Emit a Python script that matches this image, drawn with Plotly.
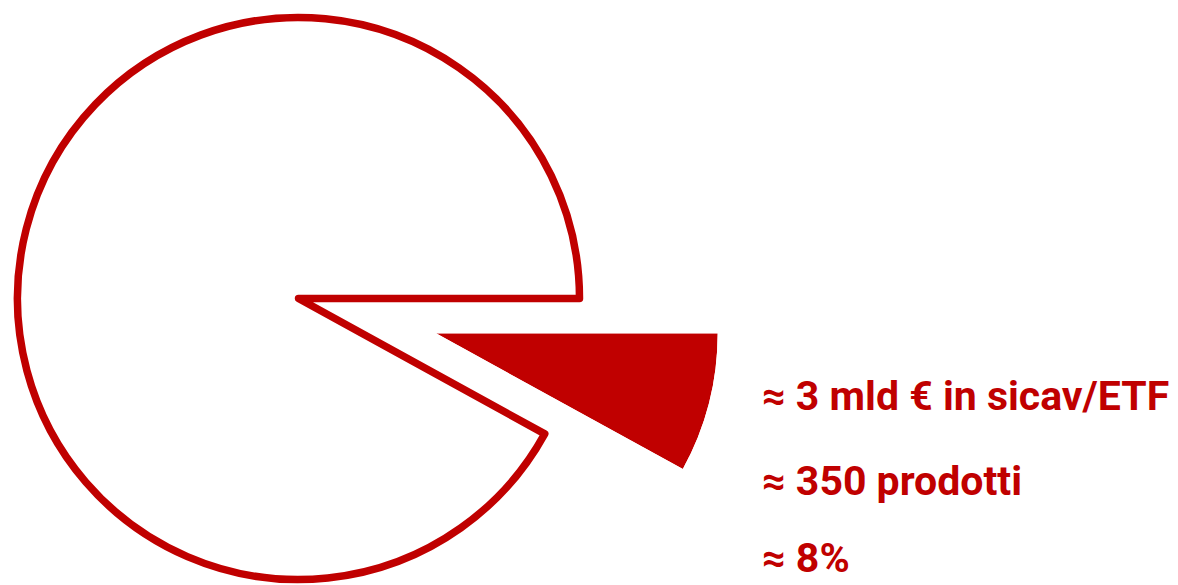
import plotly.graph_objects as go

# Share of assets: remaining market vs. sicav/ETF
labels = ["sicav/ETF", "Altro"]
shares = [8, 92]
facts = ["≈ 3 mld € in sicav/ETF", "≈ 350 prodotti", "≈ 8%"]

RED = "#C00000"
W, H = 1178, 585

fig = go.Figure()

# Main pie: outlined remainder, highlighted slice left empty here
fig.add_trace(go.Pie(
    labels=labels,
    values=shares,
    sort=False,
    direction="clockwise",
    rotation=90,
    marker=dict(
        colors=["rgba(0,0,0,0)", "white"],
        line=dict(color=["rgba(0,0,0,0)", RED], width=[0, 7.5]),
    ),
    textinfo="none",
    hoverinfo="label+percent",
    showlegend=False,
    domain=dict(x=[17.5 / W, 579.5 / W], y=[(H - 579.5) / H, (H - 17.5) / H]),
))

# Highlighted slice, drawn detached from the pie on its own polar sector
ang = shares[0] / sum(shares) * 360
fig.add_trace(go.Barpolar(
    r=[1],
    theta=[-ang / 2],
    width=[ang],
    marker=dict(color=RED, line=dict(width=0)),
    name=labels[0],
    showlegend=False,
    subplot="polar",
))

fig.update_layout(
    width=W,
    height=H,
    margin=dict(l=0, r=0, t=0, b=0),
    paper_bgcolor="white",
    plot_bgcolor="white",
    polar=dict(
        domain=dict(x=[436 / W, 717.7 / W], y=[(H - 469) / H, (H - 333.3) / H]),
        sector=[-ang, 0],
        hole=0,
        bgcolor="rgba(0,0,0,0)",
        radialaxis=dict(visible=False, range=[0, 1], showgrid=False, showline=False, showticklabels=False, ticks=""),
        angularaxis=dict(visible=False, showgrid=False, showline=False, showticklabels=False, ticks=""),
    ),
)

ys = [396, 481, 558]
for txt, yc in zip(facts, ys):
    fig.add_annotation(
        text=txt,
        xref="paper", yref="paper",
        x=760 / W, y=1 - yc / H,
        xanchor="left", yanchor="middle",
        showarrow=False,
        font=dict(family="Roboto, sans-serif", size=41, color=RED, weight="bold"),
    )

fig.write_html("out.html")
